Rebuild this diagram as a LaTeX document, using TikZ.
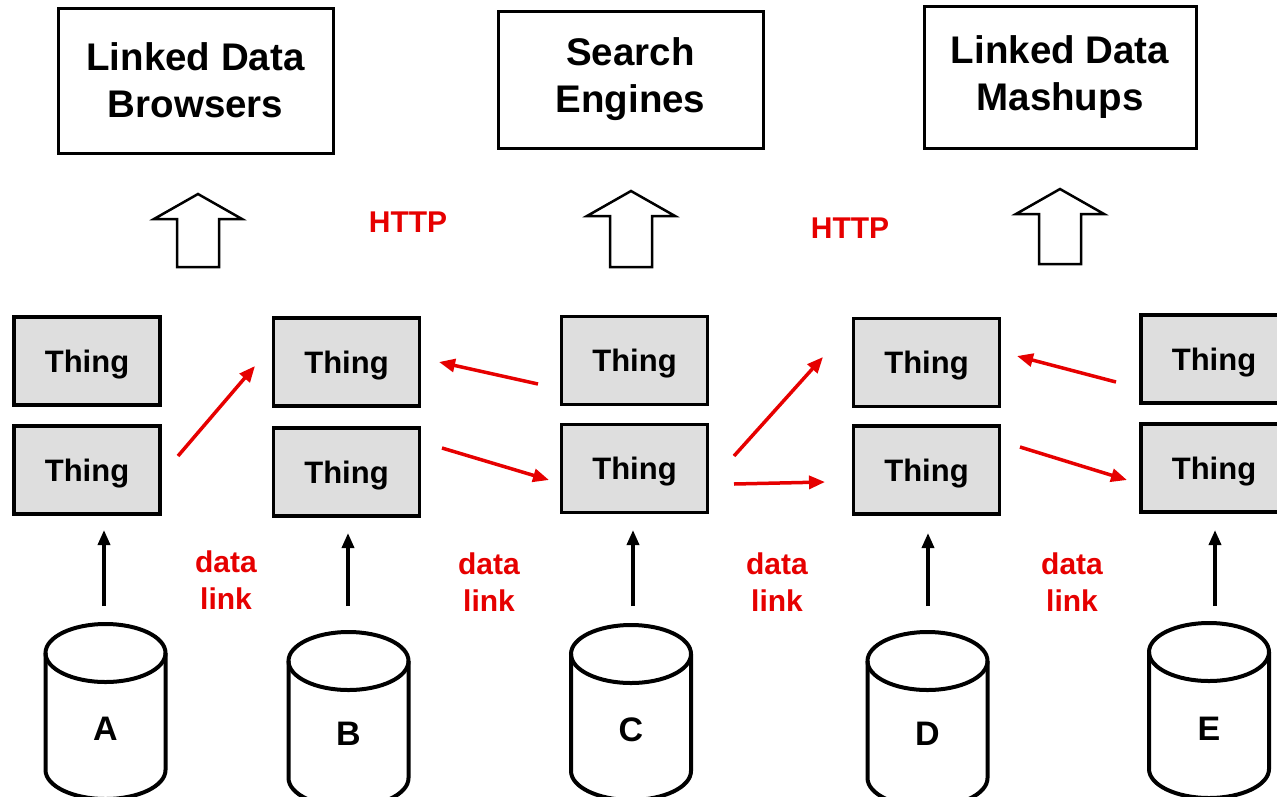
\documentclass[tikz,border=0pt]{standalone}
\usepackage{fontspec}
\setmainfont{Liberation Sans}
\usetikzlibrary{arrows.meta}
\definecolor{linkred}{RGB}{230,0,0}
\definecolor{thinggray}{RGB}{222,222,222}
\newcommand\hollowup[3]{%
  \draw[hollow] (#1,#2) -- ({#1+44},{#2+25}) -- ({#1+21},{#2+25}) -- ({#1+21},#3)
    -- ({#1-21},#3) -- ({#1-21},{#2+25}) -- ({#1-44},{#2+25}) -- cycle;}
\newcommand\dbcyl[6]{% cx, cy (top centre), by (bottom centre), name, label, label y
  \draw[cyl] (#1,#2) ellipse [x radius=60, y radius=29];
  \draw[cyl] ({#1-60},#2) -- ({#1-60},#3)
    .. controls ({#1-60},{#3+16}) and ({#1-33},{#3+29}) .. (#1,{#3+29})
    .. controls ({#1+33},{#3+29}) and ({#1+60},{#3+16}) .. ({#1+60},#3) -- ({#1+60},#2);
  \node[cyllbl] (#4) at (#1,#6) {#5};}
\begin{document}
\begin{tikzpicture}[x=1pt,y=-1pt,
  topbox/.style={draw, line width=3pt, font=\fontsize{38.5}{47}\selectfont\bfseries, align=center, inner sep=0},
  thing/.style={draw, line width=3.5pt, fill=thinggray, minimum width=146pt, minimum height=88pt, inner sep=0, text depth=0pt, font=\fontsize{31}{36}\selectfont\bfseries},
  redlbl/.style={text=linkred, font=\fontsize{30}{37}\selectfont\bfseries, align=center, inner sep=0},
  redarrow/.style={draw=linkred, line width=3.5pt, -{Triangle[length=16pt,width=13pt]}},
  uparrow/.style={line width=3.5pt, -{Triangle[length=15pt,width=12pt]}},
  hollow/.style={line width=2.5pt, line join=miter},
  cyl/.style={line width=4pt},
  cyllbl/.style={font=\fontsize{34}{40}\selectfont\bfseries, inner sep=0}]
  \useasboundingbox (0,0) rectangle (1277,796);
  \clip (0,0) rectangle (1277,796);

  % top boxes
  \node[topbox, minimum width=275pt, minimum height=145pt] (browsers) at (195.5,80.5) {Linked Data\\Browsers};
  \node[topbox, minimum width=265pt, minimum height=137pt] (search) at (630.5,79.5) {Search\\Engines};
  \node[topbox, minimum width=272pt, minimum height=142pt] (mashups) at (1060,77) {Linked Data\\Mashups};

  % hollow arrows
  \hollowup{198}{194}{267}
  \hollowup{631}{191}{267}
  \hollowup{1060}{189}{264}

  % HTTP labels
  \node[redlbl] (http1) at (408,222) {HTTP};
  \node[redlbl] (http2) at (850,228) {HTTP};

  % Thing boxes
  \node[thing] (t1a) at (87,361) {Thing};
  \node[thing] (t1b) at (87,470) {Thing};
  \node[thing] (t2a) at (346.5,362) {Thing};
  \node[thing] (t2b) at (346.5,472) {Thing};
  \node[thing] (t3a) at (634.5,360.5) {Thing};
  \node[thing] (t3b) at (634.5,468.5) {Thing};
  \node[thing] (t4a) at (926.5,362.5) {Thing};
  \node[thing] (t4b) at (926.5,470) {Thing};
  \node[thing] (t5a) at (1214,359) {Thing};
  \node[thing] (t5b) at (1214,468) {Thing};

  % red data-link arrows
  \coordinate (r1s) at (178,456); \coordinate (r1e) at (255,366);
  \coordinate (r2s) at (538,384); \coordinate (r2e) at (439,362);
  \coordinate (r3s) at (442,448); \coordinate (r3e) at (549,480);
  \coordinate (r4s) at (734,456); \coordinate (r4e) at (823,357);
  \coordinate (r5s) at (734,484); \coordinate (r5e) at (825,482);
  \coordinate (r6s) at (1116,382); \coordinate (r6e) at (1017,356);
  \coordinate (r7s) at (1020,447); \coordinate (r7e) at (1127,480);
  \foreach \i in {1,...,7} \draw[redarrow] (r\i s) -- (r\i e);

  % data link labels
  \node[redlbl] (dl1) at (226,580) {data\\link};
  \node[redlbl] (dl2) at (489,582) {data\\link};
  \node[redlbl] (dl3) at (777,582) {data\\link};
  \node[redlbl] (dl4) at (1072,582) {data\\link};

  % databases
  \dbcyl{105.5}{653}{770}{dbA}{A}{729}
  \dbcyl{348.5}{661}{778}{dbB}{B}{734}
  \dbcyl{631}{654}{771}{dbC}{C}{730}
  \dbcyl{927.5}{661}{778}{dbD}{D}{734}
  \dbcyl{1209}{652}{769}{dbE}{E}{729}

  % black arrows up
  \coordinate (u1s) at (104,606); \coordinate (u1e) at (104,530);
  \coordinate (u2s) at (348,606); \coordinate (u2e) at (348,533);
  \coordinate (u3s) at (633,606); \coordinate (u3e) at (633,530);
  \coordinate (u4s) at (928,606); \coordinate (u4e) at (928,533);
  \coordinate (u5s) at (1215,606); \coordinate (u5e) at (1215,530);
  \foreach \i in {1,...,5} \draw[uparrow] (u\i s) -- (u\i e);
\end{tikzpicture}
\end{document}
